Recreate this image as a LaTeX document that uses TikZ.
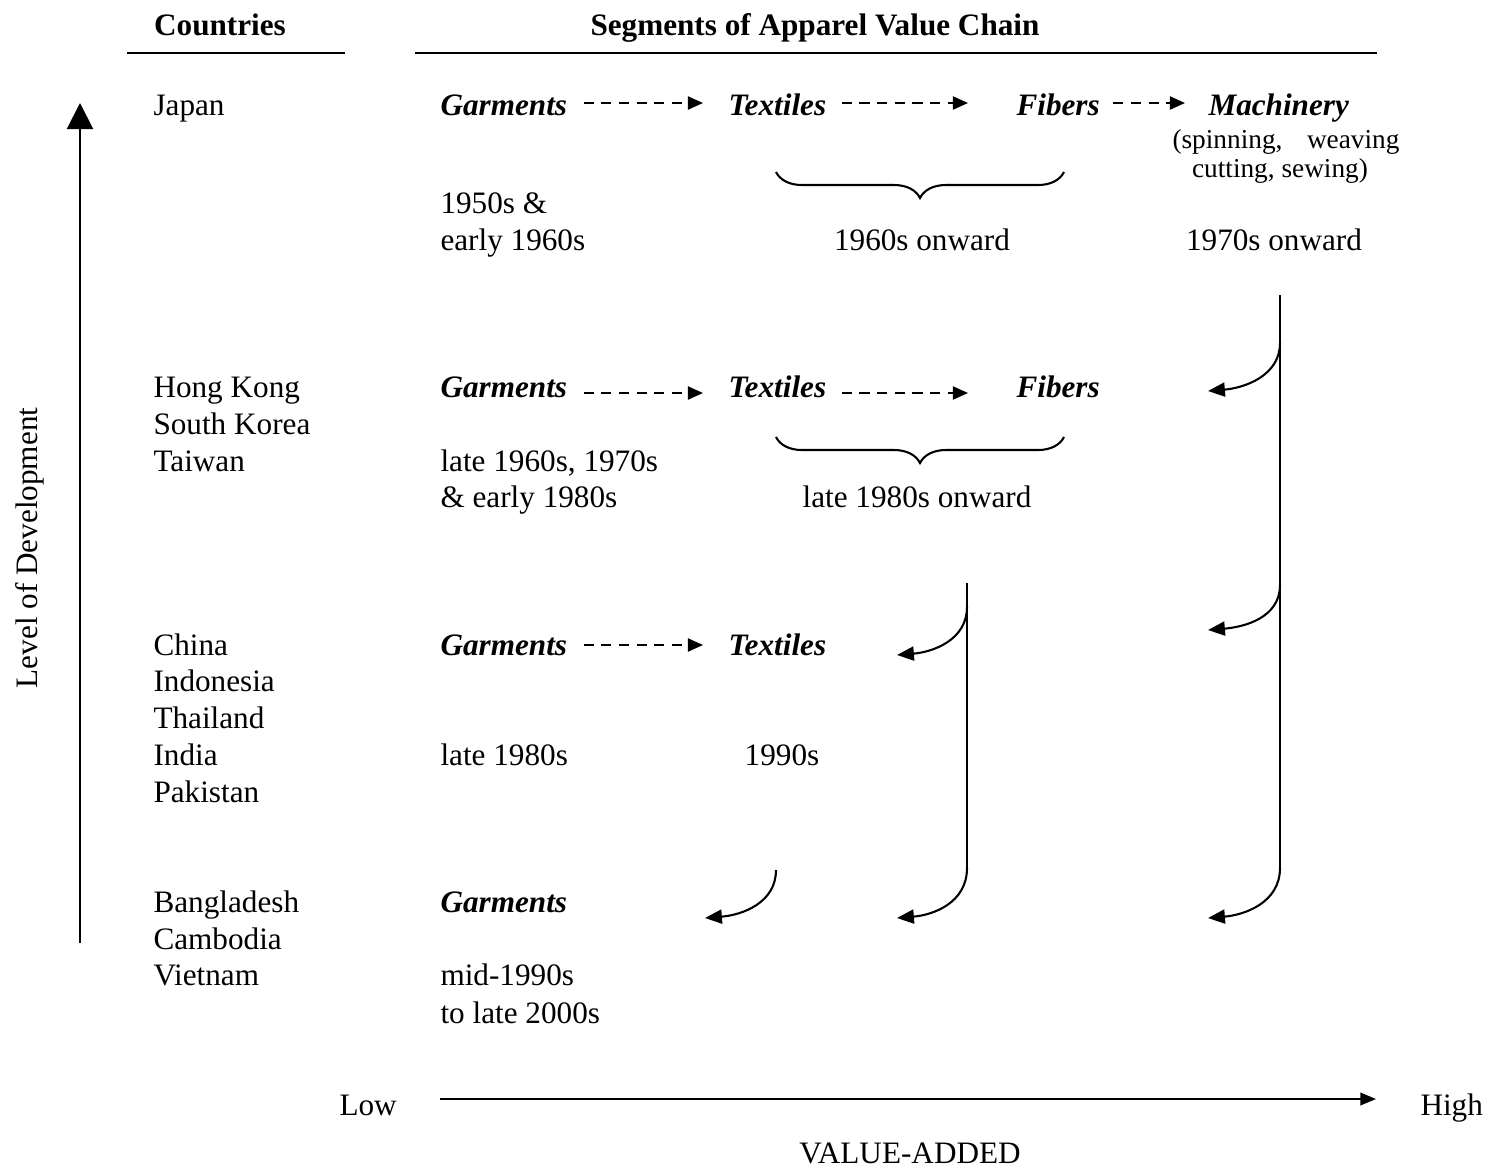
\documentclass[tikz,border=0pt]{standalone}
\usepackage{fontspec}
\setmainfont{Liberation Serif}
\usetikzlibrary{arrows.meta,decorations.pathreplacing,calc}
\begin{document}
\begin{tikzpicture}[x=0.384615pt,y=-0.384615pt,
  txt/.style={anchor=base west,inner sep=0pt,font=\fontsize{12}{14}\selectfont},
  ctxt/.style={anchor=base,inner sep=0pt,font=\fontsize{12}{14}\selectfont},
  hdr/.style={anchor=base,inner sep=0pt,font=\fontsize{12}{14}\selectfont\bfseries},
  seg/.style={anchor=base west,inner sep=0pt,font=\fontsize{12}{14}\selectfont\bfseries\itshape},
  small/.style={inner sep=0pt,font=\fontsize{10.5}{12}\selectfont},
  rulel/.style={line width=0.8pt},
  dasharr/.style={line width=0.85pt,dash pattern=on 3.9pt off 2.9pt,-{Triangle[length=5.8pt,width=5pt]}},
  curvarr/.style={line width=0.8pt,-{Triangle[length=6.5pt,width=5.4pt]}},
  bigarr/.style={line width=0.8pt,-{Triangle[length=10pt,width=10pt]}},
  axarr/.style={line width=0.8pt,-{Triangle[length=6pt,width=4.8pt]}},
  bracel/.style={line width=0.8pt,decorate,decoration={brace,amplitude=10pt}}
]
\useasboundingbox (0,0) rectangle (1501,1167);

% headers
\node[hdr] (hc) at (220,35) {Countries};
\node[hdr] (hs) at (815,35) {Segments of Apparel Value Chain};
\draw[rulel] (127,53) -- (345,53);
\draw[rulel] (415,53) -- (1377,53);

% vertical axis
\coordinate (v0) at (80,943);
\coordinate (v1) at (80,103);
\draw[bigarr] (v0) -- (v1);
\node[inner sep=0pt,rotate=90,font=\fontsize{12}{14}\selectfont] (lod) at (30,548) {Level of Development};

% countries
\node[txt] (c1) at (153,115) {Japan};
\node[txt] (c2a) at (153,397) {Hong Kong};
\node[txt] (c2b) at (153,434) {South Korea};
\node[txt] (c2c) at (153,471) {Taiwan};
\node[txt] (c3a) at (153,655) {China};
\node[txt] (c3b) at (153,691) {Indonesia};
\node[txt] (c3c) at (153,728) {Thailand};
\node[txt] (c3d) at (153,765) {India};
\node[txt] (c3e) at (153,802) {Pakistan};
\node[txt] (c4a) at (153,912) {Bangladesh};
\node[txt] (c4b) at (153,949) {Cambodia};
\node[txt] (c4c) at (153,985) {Vietnam};

% row 1
\node[seg] (g1) at (440,115) {Garments};
\node[seg] (t1) at (728,115) {Textiles};
\node[seg] (f1) at (1016,115) {Fibers};
\node[seg] (m1) at (1208,115) {Machinery};
\node[small,anchor=base west] (sp1) at (1172,148) {(spinning,};
\node[small,anchor=base east] (sp2) at (1400,148) {weaving};
\node[small,anchor=base] (sp3) at (1280,177) {cutting, sewing)};
\node[txt] (d1a) at (440,213) {1950s \&};
\node[txt] (d1b) at (440,250) {early 1960s};
\node[ctxt] (d1c) at (922,250) {1960s onward};
\node[ctxt] (d1d) at (1274,250) {1970s onward};
\draw[dasharr] ($(g1.base east)+(16,-12)$) -- ($(t1.base west)+(-25,-12)$);
\draw[dasharr] ($(t1.base east)+(15,-12)$) -- ($(f1.base west)+(-48,-12)$);
\draw[dasharr] ($(f1.base east)+(13,-12)$) -- ($(m1.base west)+(-23,-12)$);
\draw[bracel] (1064,172) -- (776,172);

% row 2
\node[seg] (g2) at (440,397) {Garments};
\node[seg] (t2) at (728,397) {Textiles};
\node[seg] (f2) at (1016,397) {Fibers};
\node[txt] (d2a) at (440,471) {late 1960s, 1970s};
\node[txt] (d2b) at (440,507) {\& early 1980s};
\node[ctxt] (d2c) at (917,507) {late 1980s onward};
\draw[dasharr] ($(g2.base east)+(16,-4)$) -- ($(t2.base west)+(-25,-4)$);
\draw[dasharr] ($(t2.base east)+(15,-4)$) -- ($(f2.base west)+(-48,-4)$);
\draw[bracel] (1064,437) -- (776,437);

% row 3
\node[seg] (g3) at (440,655) {Garments};
\node[seg] (t3) at (728,655) {Textiles};
\node[txt] (d3a) at (440,765) {late 1980s};
\node[ctxt] (d3b) at (782,765) {1990s};
\draw[dasharr] ($(g3.base east)+(16,-10)$) -- ($(t3.base west)+(-25,-10)$);

% row 4
\node[seg] (g4) at (440,912) {Garments};
\node[txt] (d4a) at (440,985) {mid-1990s};
\node[txt] (d4b) at (440,1023) {to late 2000s};

% shift connectors (right trunk)
\draw[rulel] (1280,295) -- (1280,870);
\draw[curvarr] (1280,343) .. controls (1280,376) and (1244,388) .. (1208,391);
\draw[curvarr] (1280,585) .. controls (1280,618) and (1244,627) .. (1208,630);
\draw[curvarr] (1280,868) .. controls (1280,903) and (1244,915) .. (1208,918);
% middle trunk
\draw[rulel] (967,583) -- (967,870);
\draw[curvarr] (967,607) .. controls (967,640) and (933,652) .. (897,655);
\draw[curvarr] (967,868) .. controls (967,903) and (933,915) .. (897,918);
% small
\draw[curvarr] (776,870) .. controls (776,903) and (742,915) .. (705,918);

% horizontal axis
\node[txt] (low) at (339,1115) {Low};
\node[txt] (high) at (1420,1115) {High};
\coordinate (h0) at (440,1099);
\coordinate (h1) at (1376,1099);
\draw[axarr] (h0) -- (h1);
\node[ctxt] (va) at (910,1163) {VALUE-ADDED};
\end{tikzpicture}
\end{document}
